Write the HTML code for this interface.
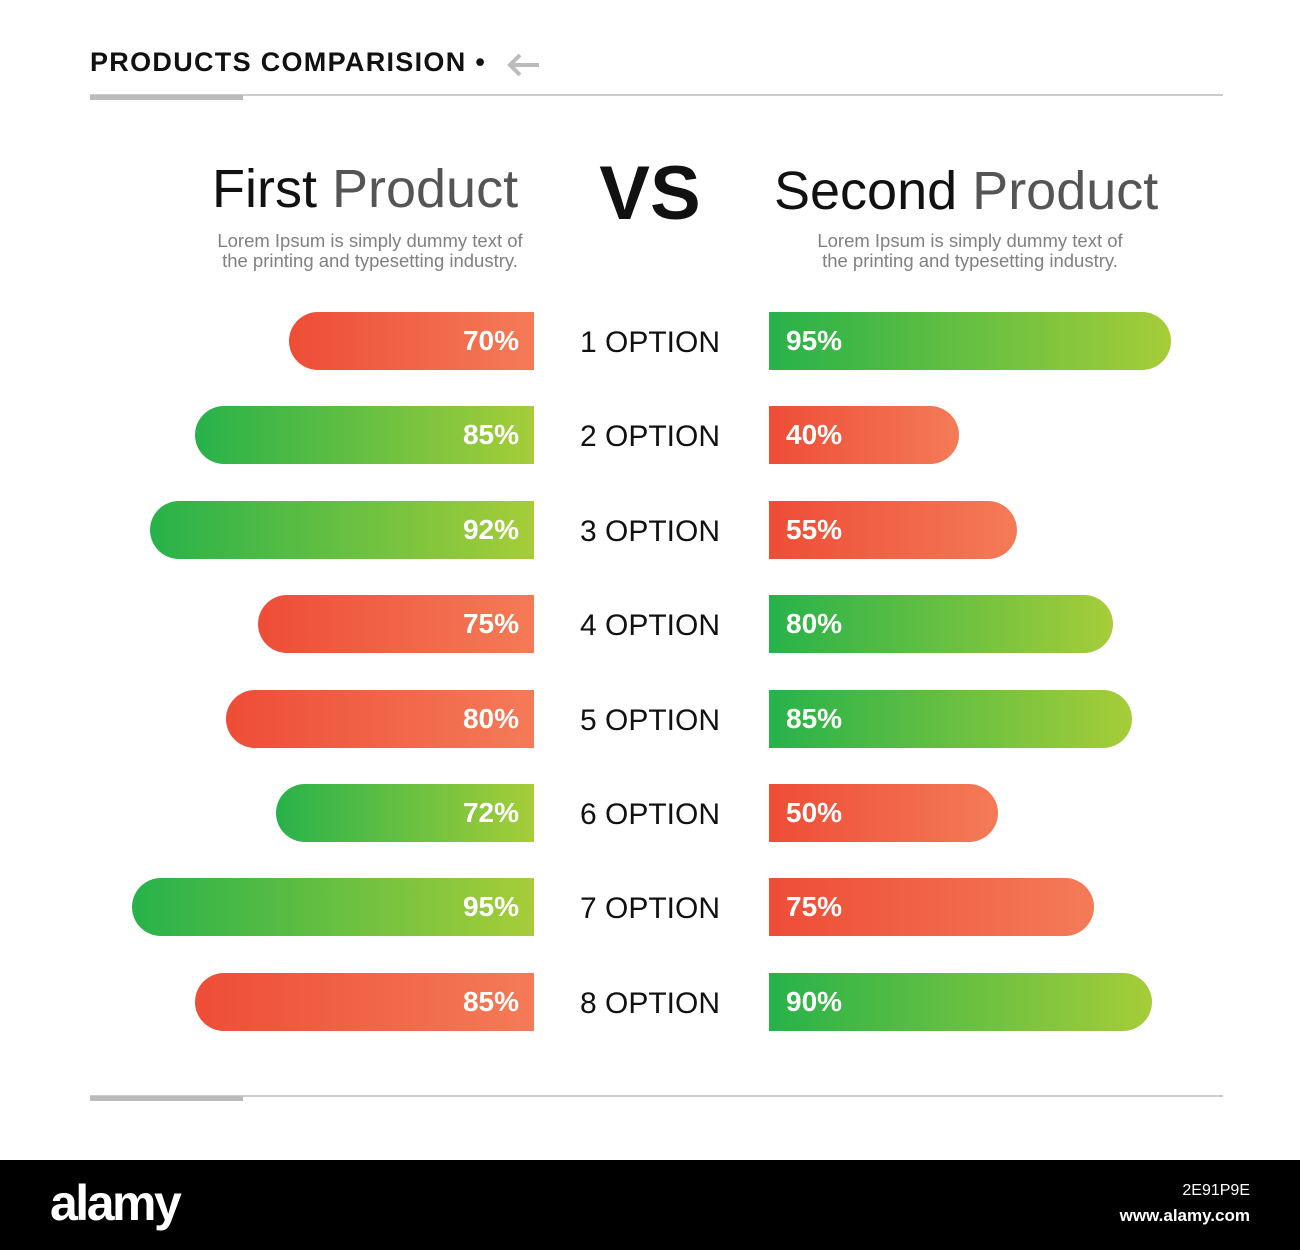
<!DOCTYPE html>
<html><head><meta charset="utf-8">
<style>
body{margin:0;width:1300px;height:1250px;background:#fff;position:relative;overflow:hidden;font-family:"Liberation Sans",sans-serif;}
.abs{position:absolute;}
.title{font-size:54px;white-space:nowrap;}
.sub{font-size:18.5px;color:#808080;text-align:center;line-height:20px;width:420px;}
.opt{font-size:30px;color:#111;left:560px;width:180px;text-align:center;}
.bar{height:58px;}
.pct{color:#fff;font-weight:bold;font-size:28px;line-height:58px;}
</style></head><body>
<div class="abs" style="left:90px;top:47px;font-size:27px;font-weight:bold;letter-spacing:1.3px;color:#111">PRODUCTS COMPARISION •</div>
<svg class="abs" style="left:505px;top:52px" width="36" height="26"><path d="M34 13H6M15 3L5 13l10 10" stroke="#bbb" stroke-width="4" fill="none"/></svg>
<div class="abs" style="left:90px;top:94px;width:1133px;height:2px;background:#ccc"></div>
<div class="abs" style="left:90px;top:95px;width:153px;height:5px;background:#bbb"></div>
<div class="abs title" style="left:212px;top:158px"><span style="color:#111">First</span> <span style="color:#555">Product</span></div>
<div class="abs" style="left:560px;width:180px;text-align:center;top:150px;font-size:76px;font-weight:bold;color:#111">VS</div>
<div class="abs title" style="left:774px;top:160px"><span style="color:#111">Second</span> <span style="color:#555">Product</span></div>
<div class="abs sub" style="left:160px;top:231px">Lorem Ipsum is simply dummy text of<br>the printing and typesetting industry.</div>
<div class="abs sub" style="left:760px;top:231px">Lorem Ipsum is simply dummy text of<br>the printing and typesetting industry.</div>
<div id="chart"></div>
<div class="abs" style="left:90px;top:1095px;width:1133px;height:2px;background:#ccc"></div>
<div class="abs" style="left:90px;top:1096px;width:153px;height:5px;background:#bbb"></div>
<div class="abs" style="left:0;top:1160px;width:1300px;height:90px;background:#000"></div>
<div class="abs" style="left:50px;top:1174px;color:#fff;font-size:50px;font-weight:bold;letter-spacing:-2.5px">alamy</div>
<div class="abs" style="left:1100px;top:1182px;width:150px;text-align:right;color:#fff;font-size:16px">2E91P9E</div>
<div class="abs" style="left:1050px;top:1206px;width:200px;text-align:right;color:#fff;font-size:17px;font-weight:bold">www.alamy.com</div>
<script>
const options=["1 OPTION","2 OPTION","3 OPTION","4 OPTION","5 OPTION","6 OPTION","7 OPTION","8 OPTION"];
const firstValues=[70,85,92,75,80,72,95,85];
const firstColors=["red","green","green","red","red","green","green","red"];
const secondValues=[95,40,55,80,85,50,75,90];
const secondColors=["green","red","red","green","green","red","red","green"];
const grad={red:"linear-gradient(90deg,#ee4d36,#f47b57)",green:"linear-gradient(90deg,#27b24a,#a6cd38)"};
function rowY(i){return 312+i*94.4;}
function leftW(v){return 245+(v-70)*6.3;}
function rightW(v){return 190+(v-40)*3.85;}
const chart=document.getElementById('chart');
options.forEach((o,i)=>{
  const y=rowY(i);
  const lab=document.createElement('div');
  lab.className='abs opt';lab.style.top=(y+14)+'px';lab.textContent=o;
  
  
  chart.appendChild(lab);
  const lw=leftW(firstValues[i]);
  const lb=document.createElement('div');
  lb.className='abs bar';
  lb.style.cssText+=`left:${534-lw}px;top:${y}px;width:${lw}px;background:${grad[firstColors[i]]};border-radius:29px 0 0 29px;`;
  
  
  const lt=document.createElement('div');
  lt.className='abs pct';lt.style.right='15px';lt.style.top='0';lt.textContent=firstValues[i]+'%';
  
  
  lb.appendChild(lt);chart.appendChild(lb);
  const rw=rightW(secondValues[i]);
  const rb=document.createElement('div');
  rb.className='abs bar';
  rb.style.cssText+=`left:769px;top:${y}px;width:${rw}px;background:${grad[secondColors[i]]};border-radius:0 29px 29px 0;`;
  
  
  const rt=document.createElement('div');
  rt.className='abs pct';rt.style.left='17px';rt.style.top='0';rt.textContent=secondValues[i]+'%';
  
  
  rb.appendChild(rt);chart.appendChild(rb);
});
</script>
</body></html>
